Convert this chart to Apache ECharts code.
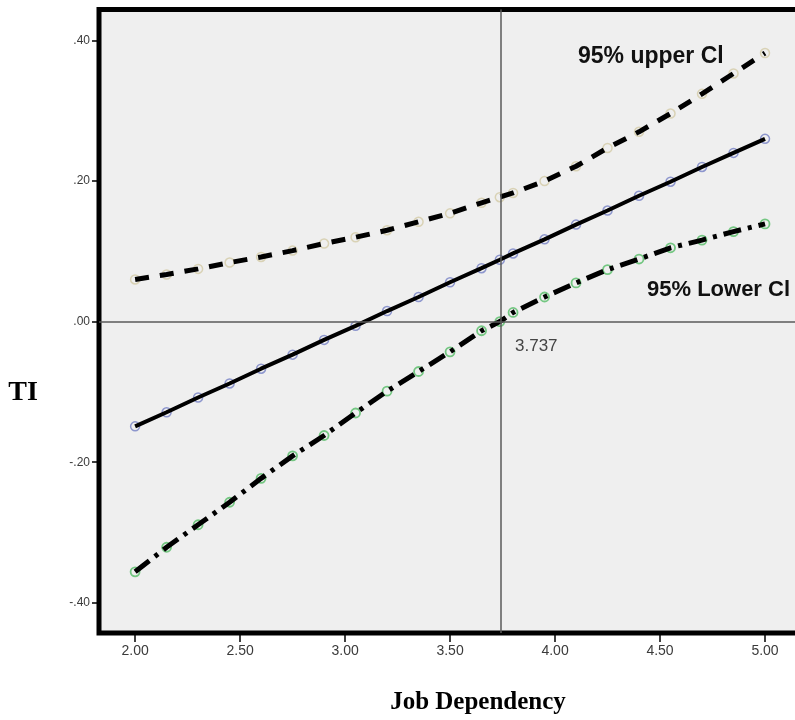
<!DOCTYPE html>
<html>
<head>
<meta charset="utf-8">
<script src="https://cdn.jsdelivr.net/npm/echarts@6/dist/echarts.min.js"></script>
<style>html,body{margin:0;padding:0;background:#fff;}#c{width:795px;height:720px;}</style>
</head>
<body>
<div id="c"></div>
<script>
// ---- data ----
const xVals = [2.00, 2.15, 2.30, 2.45, 2.60, 2.75, 2.90, 3.05, 3.20, 3.35, 3.50, 3.65, 3.737, 3.80, 3.95, 4.10, 4.25, 4.40, 4.55, 4.70, 4.85, 5.00];
const effectVals = [-0.149, -0.129, -0.108, -0.088, -0.067, -0.047, -0.026, -0.006, 0.015, 0.035, 0.056, 0.076, 0.088, 0.097, 0.117, 0.138, 0.158, 0.179, 0.199, 0.220, 0.240, 0.260];
const upperVals = [0.060, 0.067, 0.075, 0.084, 0.092, 0.101, 0.111, 0.120, 0.130, 0.142, 0.154, 0.169, 0.177, 0.183, 0.200, 0.221, 0.247, 0.270, 0.296, 0.324, 0.353, 0.382];
const lowerVals = [-0.356, -0.321, -0.289, -0.257, -0.223, -0.191, -0.162, -0.130, -0.099, -0.071, -0.043, -0.013, 0.000, 0.013, 0.035, 0.055, 0.074, 0.089, 0.105, 0.116, 0.128, 0.139];
const xTicks = [2.00, 2.50, 3.00, 3.50, 4.00, 4.50, 5.00];
const xTickLabels = ['2.00', '2.50', '3.00', '3.50', '4.00', '4.50', '5.00'];
const yTicks = [-0.4, -0.2, 0, 0.2, 0.4];
const yTickLabels = ['-.40', '-.20', '.00', '.20', '.40'];
const crossX = 3.737;
const crossLabel = '3.737';
const xTitle = 'Job Dependency';
const yTitle = 'TI';
const upperName = '95% upper Cl';
const lowerName = '95% Lower Cl';

const pairs = ys => xVals.map((x, i) => [x, ys[i]]);

// markers drawn underneath, lines drawn on top (as in the reference)
function markerSeries(ys, color, size, bw) {
  return {
    type: 'scatter', data: pairs(ys), z: 2, silent: true,
    symbol: 'circle', symbolSize: size,
    itemStyle: {color: 'rgba(239,239,239,0.6)', borderColor: color, borderWidth: bw}
  };
}
function lineSeries(name, ys, width, type) {
  return {
    name: name, type: 'line', data: pairs(ys), z: 3, silent: true,
    showSymbol: false, symbol: 'none',
    lineStyle: {color: '#000', width: width, type: type, cap: 'butt'}
  };
}

const chart = echarts.init(document.getElementById('c'), null, {renderer: 'canvas'});
chart.setOption({
  animation: false,
  backgroundColor: '#ffffff',
  grid: {
    left: 99, top: 9.5, right: -12, bottom: 87,
    outerBoundsMode: 'none', containLabel: false,
    show: true, backgroundColor: '#efefef', borderColor: '#000', borderWidth: 5
  },
  xAxis: {
    type: 'value', min: 1.828, max: 5.2,
    splitLine: {show: false},
    axisLine: {show: false, onZero: false},
    axisTick: {show: true, length: 9, lineStyle: {color: '#000', width: 1.5}, customValues: xTicks},
    axisLabel: {
      customValues: xTicks, margin: 11, color: '#3a3a3a', fontSize: 14,
      fontFamily: 'Liberation Sans',
      formatter: v => xTickLabels[xTicks.findIndex(t => Math.abs(t - v) < 1e-6)]
    }
  },
  yAxis: {
    type: 'value', min: -0.443, max: 0.444,
    splitLine: {show: false},
    axisLine: {show: false, onZero: false},
    axisTick: {show: true, length: 7, lineStyle: {color: '#000', width: 1.5}, customValues: yTicks},
    axisLabel: {
      customValues: yTicks, margin: 9, color: '#3a3a3a', fontSize: 12,
      fontFamily: 'Liberation Sans',
      formatter: v => yTickLabels[yTicks.findIndex(t => Math.abs(t - v) < 1e-6)]
    }
  },
  series: [
    {
      type: 'line', data: [], z: 1, silent: true,
      markLine: {
        silent: true, symbol: ['none', 'none'], label: {show: false},
        lineStyle: {color: '#5a5a5a', width: 1.5, type: 'solid'},
        data: [{xAxis: crossX}, {yAxis: 0}]
      }
    },
    markerSeries(upperVals, '#d3cba6', 9, 1.5),
    markerSeries(effectVals, '#7480c4', 9, 1.5),
    markerSeries(lowerVals, '#55bd66', 9, 1.8),
    lineSeries(upperName, upperVals, 5, [14, 11]),
    lineSeries('effect', effectVals, 4, 'solid'),
    lineSeries(lowerName, lowerVals, 5, [18, 7, 4, 7])
  ],
  graphic: [
    {type: 'text', z: 10, style: {x: 578, y: 57, text: upperName, font: 'bold 23px "Liberation Sans"', fill: '#111', textVerticalAlign: 'middle'}},
    {type: 'text', z: 10, style: {x: 647, y: 290, text: lowerName, font: 'bold 22px "Liberation Sans"', fill: '#111', textVerticalAlign: 'middle'}},
    {type: 'text', z: 10, style: {x: 515, y: 346, text: crossLabel, font: '17px "Liberation Sans"', fill: '#444', textVerticalAlign: 'middle'}},
    {type: 'text', z: 10, style: {x: 23, y: 393, text: yTitle, font: 'bold 28px "Liberation Serif"', fill: '#000', textAlign: 'center', textVerticalAlign: 'middle'}},
    {type: 'text', z: 10, style: {x: 478, y: 703, text: xTitle, font: 'bold 25px "Liberation Serif"', fill: '#000', textAlign: 'center', textVerticalAlign: 'middle'}}
  ]
});
</script>
</body>
</html>
